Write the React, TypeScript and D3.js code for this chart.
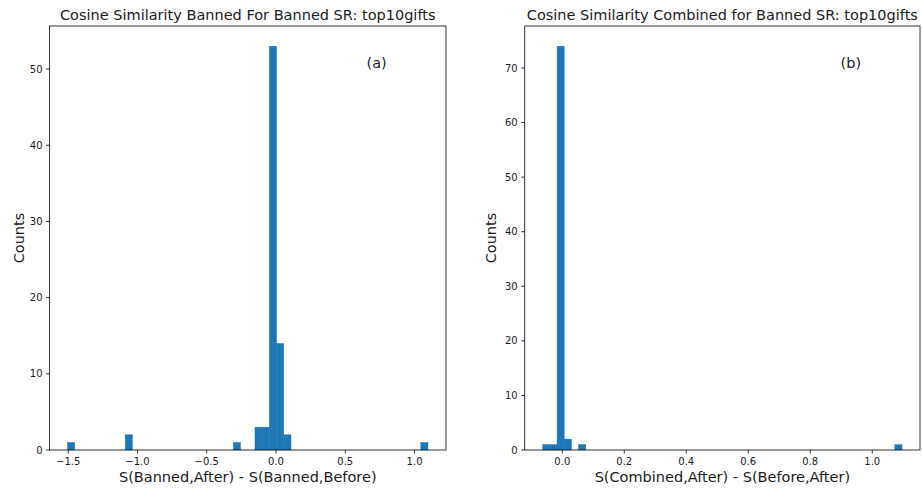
import React from "react";
import * as d3 from "d3";

// Panel (a): histogram of S(Banned,After) - S(Banned,Before), 50 bins
const countsA = [1,0,0,0,0,0,0,0,2,0, 0,0,0,0,0,0,0,0,0,0, 0,0,0,1,0,0,3,3,53,14, 2,0,0,0,0,0,0,0,0,0, 0,0,0,0,0,0,0,0,0,1];
const binRangeA = [-1.505, 1.097];
const xTicksA = [-1.5, -1.0, -0.5, 0.0, 0.5, 1.0];
const yTicksA = [0, 10, 20, 30, 40, 50];

// Panel (b): histogram of S(Combined,After) - S(Before,After), 50 bins
const countsB = [1,1,74,2,0,1,0,0,0,0, 0,0,0,0,0,0,0,0,0,0, 0,0,0,0,0,0,0,0,0,0, 0,0,0,0,0,0,0,0,0,0, 0,0,0,0,0,0,0,0,0,1];
const binRangeB = [-0.0633, 1.096];
const xTicksB = [0.0, 0.2, 0.4, 0.6, 0.8, 1.0];
const yTicksB = [0, 10, 20, 30, 40, 50, 60, 70];

const titles = [
  "Cosine Similarity Banned For Banned SR: top10gifts",
  "Cosine Similarity Combined for Banned SR: top10gifts",
];
const xLabels = ["S(Banned,After) - S(Banned,Before)", "S(Combined,After) - S(Before,After)"];
const tags = ["(a)", "(b)"];

const FONT = "DejaVu Sans, sans-serif";
const BAR = "#1f77b4";
const TXT = "#1a1a1a";

function Panel({ counts, binRange, xTicks, yTicks, title, xLabel, tag, left, right, ylabOffset }) {
  const top = 26, bottom = 450;
  const n = counts.length;
  const w = (binRange[1] - binRange[0]) / n;
  const span = binRange[1] - binRange[0];
  const x = d3.scaleLinear().domain([binRange[0] - span * 0.05, binRange[1] + span * 0.05]).range([left, right]);
  const ymax = d3.max(counts) * 1.05;
  const y = d3.scaleLinear().domain([0, ymax]).range([bottom, top]);
  const fmt = d3.format(".1f");
  return (
    <g>
      {counts.map((c, i) =>
        c > 0 ? (
          <rect key={i} x={x(binRange[0] + i * w)} width={x(binRange[0] + (i + 1) * w) - x(binRange[0] + i * w)}
            y={y(c)} height={y(0) - y(c)} fill={BAR} stroke={BAR} strokeWidth={0.4} />
        ) : null
      )}
      <rect x={left} y={top} width={right - left} height={bottom - top} fill="none" stroke="#000" strokeWidth={0.8} />
      {xTicks.map((t) => (
        <g key={t} transform={`translate(${x(t)},${bottom})`}>
          <line y2={3.5} stroke="#000" strokeWidth={0.8} />
          <text y={15} textAnchor="middle" fontSize={10} fontFamily={FONT} fill={TXT}>
            {fmt(t).replace("-", "\u2212")}
          </text>
        </g>
      ))}
      {yTicks.map((t) => (
        <g key={t} transform={`translate(${left},${y(t)})`}>
          <line x2={-3.5} stroke="#000" strokeWidth={0.8} />
          <text x={-7} dy="0.35em" textAnchor="end" fontSize={10} fontFamily={FONT} fill={TXT}>{t}</text>
        </g>
      ))}
      <text x={(left + right) / 2} y={19.5} textAnchor="middle" fontSize={14.5} fontFamily={FONT} fill={TXT}>{title}</text>
      <text x={(left + right) / 2} y={482} textAnchor="middle" fontSize={14.5} fontFamily={FONT} fill={TXT}>{xLabel}</text>
      <text transform={`translate(${left - ylabOffset},${(top + bottom) / 2}) rotate(-90)`} textAnchor="middle" fontSize={14.5} fontFamily={FONT} fill={TXT}>Counts</text>
      <text x={left + (right - left) * 0.825} y={68} textAnchor="middle" fontSize={14.5} fontFamily={FONT} fill={TXT}>{tag}</text>
    </g>
  );
}

export default function App() {
  return (
    <svg width={922} height={489} style={{ position: "absolute", left: 0, top: 0, background: "#fff" }}>
      <Panel counts={countsA} binRange={binRangeA} xTicks={xTicksA} yTicks={yTicksA} title={titles[0]} xLabel={xLabels[0]} tag={tags[0]} left={49.5} right={446} ylabOffset={25.5} />
      <Panel counts={countsB} binRange={binRangeB} xTicks={xTicksB} yTicks={yTicksB} title={titles[1]} xLabel={xLabels[1]} tag={tags[1]} left={524.7} right={920} ylabOffset={28.7} />
    </svg>
  );
}
